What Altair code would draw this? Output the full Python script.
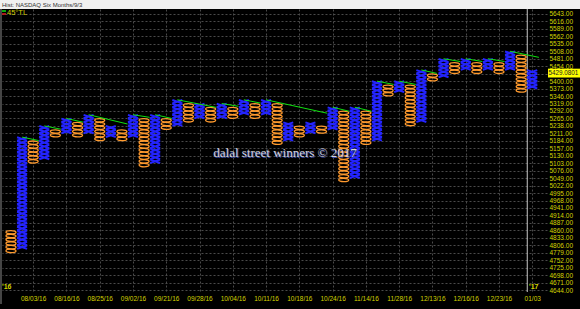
import altair as alt
import pandas as pd

# Point & figure chart, NASDAQ, box size 13.5, oldest column first
BOX = 13.5
col_kind = ["O", "X"] * 24
col_high = [4860, 5197.5, 5184, 5238, 5224.5, 5265, 5251.5, 5278.5, 5265, 5238,
            5224.5, 5278.5, 5265, 5278.5, 5265, 5332.5, 5319, 5319, 5305.5, 5319,
            5305.5, 5332.5, 5319, 5332.5, 5319, 5251.5, 5238, 5251.5, 5238, 5305.5,
            5292, 5305.5, 5292, 5400, 5386.5, 5400, 5386.5, 5440.5, 5427, 5481,
            5467.5, 5481, 5467.5, 5481, 5467.5, 5508, 5494.5, 5440.5]
col_low = [4779, 4792.5, 5103, 5116.5, 5197.5, 5211, 5197.5, 5211, 5184, 5197.5,
           5184, 5197.5, 5089.5, 5103, 5224.5, 5238, 5251.5, 5265, 5251.5, 5265,
           5265, 5278.5, 5265, 5278.5, 5170.5, 5184, 5197.5, 5211, 5211, 5224.5,
           5035.5, 5049, 5170.5, 5184, 5346, 5359.5, 5238, 5251.5, 5400, 5413.5,
           5427, 5440.5, 5427, 5440.5, 5427, 5440.5, 5359.5, 5373]

# 45-degree trendline segments (column, price)
tl_x1 = [1, 3, 5, 7, 11, 13, 15, 19, 21, 23, 29, 31, 33, 35, 37, 39, 41, 43, 45]
tl_x2 = [2.5, 4.5, 6.5, 10.5, 12.5, 14.5, 18.5, 20.5, 22.5, 28.5, 30.5, 32.5,
         34.5, 36.5, 38.4, 40.5, 42.5, 44.5, 47.6]
tl_y1 = [5197.5, 5238, 5265, 5278.5, 5278.5, 5278.5, 5332.5, 5319, 5332.5, 5332.5,
         5305.5, 5305.5, 5400, 5400, 5440.5, 5481, 5481, 5481, 5508]
tl_y2 = [5185, 5226, 5251.5, 5245, 5269, 5265, 5305, 5309, 5320.5, 5284,
         5291, 5291, 5388, 5388, 5428, 5471, 5471, 5471, 5486]

# x-axis date labels every third column
label_cols = [2, 5, 8, 11, 14, 17, 20, 23, 26, 29, 32, 35, 38, 41, 44, 47]
date_labels = ["08/03/16", "08/16/16", "08/25/16", "09/02/16", "09/21/16",
               "09/28/16", "10/04/16", "10/11/16", "10/18/16", "10/24/16",
               "11/14/16", "11/28/16", "12/13/16", "12/16/16", "12/23/16", "01/03"]
price_ticks = [4644 + 27 * k for k in range(38)]
year_break_col = [46.55]
last_price = 5429.0801

# expand each column into its boxes
rows = []
for i, (k, hi, lo) in enumerate(zip(col_kind, col_high, col_low)):
    n = int(round((hi - lo) / BOX))
    for j in range(n):
        rows.append({"col": i, "kind": k, "price": lo + BOX * (j + 0.5)})
boxes = pd.DataFrame(rows)
tls = pd.DataFrame({"col": tl_x1, "col2": tl_x2, "price": tl_y1, "price2": tl_y2})
one = pd.DataFrame({"a": [0]})

W, H = 545, 283
YEL = "#d4d400"
FONT = "Liberation Sans"

xscale = alt.Scale(domain=[-0.81, 48.33], nice=False, zero=False)
yscale = alt.Scale(domain=[4637, 5661], nice=False, zero=False)
label_js = "[" + ",".join("'%s'" % d for d in date_labels) + "][round((datum.value-2)/3)]"
# the price tick under the last-price tag is left blank
price_js = "abs(datum.value - %f) < 14 ? '' : format(datum.value, '.2f')" % last_price
xaxis = alt.Axis(values=label_cols, labelExpr=label_js, labelColor=YEL, labelFont=FONT,
                 labelFontSize=6.5, labelPadding=3, ticks=False, domain=False, grid=True,
                 gridColor="#4a4a4a", gridDash=[2, 2], labelOverlap=False, labelFlush=False)
yaxis = alt.Axis(orient="right", values=price_ticks, labelExpr=price_js, labelColor=YEL,
                 labelFont=FONT, labelFontSize=6.5, labelPadding=2, ticks=False,
                 domain=False, grid=True, gridColor="#4a4a4a", gridDash=[2, 2],
                 labelAlign="left", labelBaseline="middle", labelOverlap=False,
                 labelFlush=False)
X = alt.X("col:Q", scale=xscale, axis=xaxis, title=None)
Y = alt.Y("price:Q", scale=yscale, axis=yaxis, title=None)

X_PATH = "M-1,-0.34L1,0.34M-1,0.34L1,-0.34"
O_PATH = "M-1,0A1,0.34 0 1,0 1,0A1,0.34 0 1,0 -1,0Z"

xs = alt.Chart(boxes).transform_filter(alt.datum.kind == "X").mark_point(
    shape=X_PATH, size=100, color="#2424ff", filled=False, strokeWidth=2.0, opacity=1
).encode(x=X, y=Y)
os_ = alt.Chart(boxes).transform_filter(alt.datum.kind == "O").mark_point(
    shape=O_PATH, size=100, color="#ff9a2e", filled=False, strokeWidth=1.3, opacity=1
).encode(x=X, y=Y)

trend = alt.Chart(tls).mark_rule(color="#10e010", strokeWidth=1).encode(
    x=X, x2="col2:Q", y=Y, y2="price2:Q")

year_line = alt.Chart(pd.DataFrame({"col": year_break_col})).mark_rule(
    color="#c8c8c8", strokeWidth=1).encode(x=X, y=alt.value(0), y2=alt.value(H))
left_edge = alt.Chart(one).mark_rule(color="#8a8a8a", strokeWidth=1).encode(
    x=alt.value(-1), y=alt.value(0), y2=alt.value(H + 12))

header = alt.Chart(one).mark_rect(color="#f0f0f0").encode(
    x=alt.value(-2), x2=alt.value(W + 33), y=alt.value(-9), y2=alt.value(0))
header_txt = alt.Chart(one).mark_text(
    align="left", baseline="middle", fontSize=6, font=FONT, color="#303030"
).encode(x=alt.value(0), y=alt.value(-4.5), text=alt.value("Hist: NASDAQ Six Months/9/3"))

leg_g = alt.Chart(one).mark_rule(color="#10e010", strokeWidth=1.5).encode(
    x=alt.value(0), x2=alt.value(4), y=alt.value(2), y2=alt.value(2))
leg_r = alt.Chart(one).mark_rule(color="#e02020", strokeWidth=1.5).encode(
    x=alt.value(0), x2=alt.value(4), y=alt.value(5), y2=alt.value(5))
leg_txt = alt.Chart(one).mark_text(
    align="left", baseline="middle", fontSize=7.5, font=FONT, color=YEL
).encode(x=alt.value(5), y=alt.value(3.5), text=alt.value("45°TL"))

yr16 = alt.Chart(one).mark_text(
    align="left", baseline="middle", fontSize=7, font=FONT, color=YEL, fontWeight="bold"
).encode(x=alt.value(0), y=alt.value(278), text=alt.value("'16"))
yr17 = alt.Chart(one).mark_text(
    align="left", baseline="middle", fontSize=7, font=FONT, color=YEL, fontWeight="bold"
).encode(x=alt.value(527), y=alt.value(278), text=alt.value("'17"))

mark_shadow = alt.Chart(one).mark_text(
    fontSize=13, font="Liberation Serif", color="#3a4aa0"
).encode(x=alt.value(284), y=alt.value(145), text=alt.value("dalal street winners © 2017"))
mark_txt = alt.Chart(one).mark_text(
    fontSize=13, font="Liberation Serif", color="#d4d4dc"
).encode(x=alt.value(283), y=alt.value(144), text=alt.value("dalal street winners © 2017"))

cur = pd.DataFrame({"price": [last_price], "label": ["%.4f" % last_price]})
cur_box = alt.Chart(cur).transform_calculate(
    lo="datum.price - 16", hi="datum.price + 16"
).mark_rect(color="#ffff00").encode(
    x=alt.value(W + 1), x2=alt.value(W + 33),
    y=alt.Y("lo:Q", scale=yscale, axis=yaxis, title=None), y2="hi:Q")
cur_txt = alt.Chart(cur).mark_text(
    align="left", baseline="middle", fontSize=6.3, font=FONT, color="#202020"
).encode(x=alt.value(W + 1.5), y=Y, text="label:N")

chart = alt.layer(
    year_line, left_edge, xs, os_, trend, mark_shadow, mark_txt,
    header, header_txt, leg_g, leg_r, leg_txt, yr16, yr17, cur_box, cur_txt
).properties(
    width=W, height=H, background="#000000",
    padding={"left": 2, "top": 9, "right": 33, "bottom": 17},
    autosize=alt.AutoSizeParams(type="none"),
).configure_view(stroke=None)

chart.save("out.html", embed_options={"renderer": "svg", "actions": False})
